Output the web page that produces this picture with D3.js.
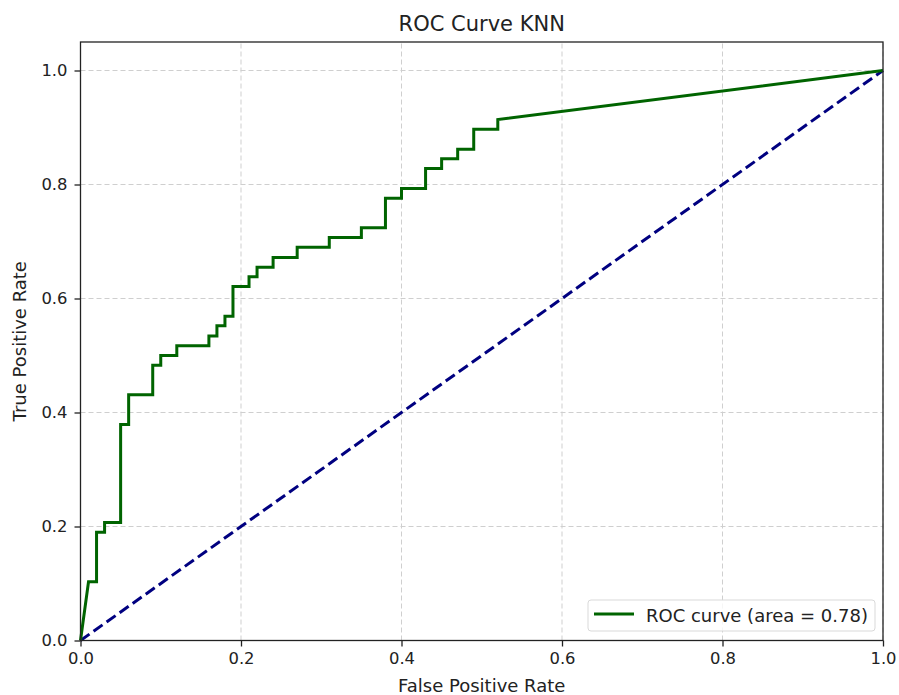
<!DOCTYPE html>
<html>
<head>
<meta charset="utf-8">
<script src="https://cdn.jsdelivr.net/npm/d3@7/dist/d3.min.js"></script>
<style>
  body { margin: 0; background: #fff; }
  svg { font-family: "DejaVu Sans", sans-serif; }
</style>
</head>
<body>
<svg id="chart" width="899" height="695"></svg>
<script>
// ROC points
const fpr = [0, 0.01, 0.02, 0.02, 0.03, 0.03, 0.05, 0.05, 0.06, 0.06, 0.09, 0.09, 0.10, 0.10,
  0.12, 0.12, 0.16, 0.16, 0.17, 0.17, 0.18, 0.18, 0.19, 0.19, 0.21, 0.21, 0.22, 0.22,
  0.24, 0.24, 0.27, 0.27, 0.31, 0.31, 0.35, 0.35, 0.38, 0.38, 0.40, 0.40, 0.43, 0.43,
  0.45, 0.45, 0.47, 0.47, 0.49, 0.49, 0.52, 0.52, 1.0]
const tpr = [0, 0.103, 0.103, 0.190, 0.190, 0.207, 0.207, 0.379, 0.379, 0.431, 0.431, 0.483, 0.483, 0.500,
  0.500, 0.517, 0.517, 0.534, 0.534, 0.552, 0.552, 0.569, 0.569, 0.621, 0.621, 0.638, 0.638, 0.655,
  0.655, 0.672, 0.672, 0.690, 0.690, 0.707, 0.707, 0.724, 0.724, 0.776, 0.776, 0.793, 0.793, 0.828,
  0.828, 0.845, 0.845, 0.862, 0.862, 0.897, 0.897, 0.914, 1.0]
const diagonal = [0, 1]
const ticks = [0, 0.2, 0.4, 0.6, 0.8, 1.0]
const rocAuc = 0.78

const svg = d3.select('#chart')
const margin = { left: 80.5, right: 16, top: 42, bottom: 54.5 }
const width = 899, height = 695

let x = d3.scaleLinear().domain([0, 1]).range([margin.left, width - margin.right])
let y = d3.scaleLinear().domain([0, 1.05]).range([height - margin.bottom, margin.top])

// grid
svg.append('g')
  .selectAll('line')
  .data(ticks)
  .enter().append('line')
  .attr('x1', d => x(d)).attr('x2', d => x(d))
  .attr('y1', y(0)).attr('y2', y(1.05))
  .attr('stroke', '#cfcfcf').attr('stroke-width', 1).attr('stroke-dasharray', '5,3')
svg.append('g')
  .selectAll('line')
  .data(ticks)
  .enter().append('line')
  .attr('y1', d => y(d)).attr('y2', d => y(d))
  .attr('x1', x(0)).attr('x2', x(1))
  .attr('stroke', '#cfcfcf').attr('stroke-width', 1).attr('stroke-dasharray', '5,3')

// curves
let line = d3.line().x(d => x(d[0])).y(d => y(d[1]))

svg.append('path')
  .datum(diagonal.map(d => [d, d]))
  .attr('d', line)
  .attr('fill', 'none')
  .attr('stroke', 'navy')
  .attr('stroke-width', 3)
  .attr('stroke-dasharray', '11,5')

svg.append('path')
  .datum(fpr.map((f, i) => [f, tpr[i]]))
  .attr('d', line)
  .attr('fill', 'none')
  .attr('stroke', 'darkgreen')
  .attr('stroke-width', 3)
  .attr('stroke-linejoin', 'miter')

// axes
let xAxis = svg.append('g')
  .attr('transform', `translate(0,${y(0)})`)
  .call(d3.axisBottom(x).tickValues(ticks).tickFormat(d3.format('.1f')).tickSizeOuter(0).tickSize(6).tickPadding(6))
let yAxis = svg.append('g')
  .attr('transform', `translate(${x(0)},0)`)
  .call(d3.axisLeft(y).tickValues(ticks).tickFormat(d3.format('.1f')).tickSizeOuter(0).tickSize(6).tickPadding(7))

;[xAxis, yAxis].forEach(a => {
  a.select('.domain').remove()
  a.selectAll('text').attr('font-size', 16.4).attr('fill', '#222').attr('font-family', 'DejaVu Sans')
  a.selectAll('line').attr('stroke', '#222').attr('stroke-width', 1.3)
})

// frame
svg.append('rect')
  .attr('x', x(0)).attr('y', y(1.05))
  .attr('width', x(1) - x(0)).attr('height', y(0) - y(1.05))
  .attr('fill', 'none').attr('stroke', '#222').attr('stroke-width', 1.3)

// labels
svg.append('text')
  .attr('x', (x(0) + x(1)) / 2).attr('y', 31)
  .attr('text-anchor', 'middle').attr('font-size', 21).attr('fill', '#222')
  .text('ROC Curve KNN')
svg.append('text')
  .attr('x', (x(0) + x(1)) / 2).attr('y', 692)
  .attr('text-anchor', 'middle').attr('font-size', 18).attr('fill', '#222')
  .text('False Positive Rate')
svg.append('text')
  .attr('transform', `translate(26,${(y(0) + y(1.05)) / 2}) rotate(-90)`)
  .attr('text-anchor', 'middle').attr('font-size', 18).attr('fill', '#222')
  .text('True Positive Rate')

// legend
let legend = svg.append('g').attr('transform', 'translate(588,600)')
legend.append('rect')
  .attr('width', 287).attr('height', 31).attr('rx', 3)
  .attr('fill', 'rgba(255,255,255,0.8)').attr('stroke', '#d9d9d9')
legend.append('line')
  .attr('x1', 6).attr('x2', 46).attr('y1', 14).attr('y2', 14)
  .attr('stroke', 'darkgreen').attr('stroke-width', 3)
legend.append('text')
  .attr('x', 58).attr('y', 21.5).attr('font-size', 18).attr('fill', '#222')
  .text(`ROC curve (area = ${rocAuc.toFixed(2)})`)
</script>
</body>
</html>
